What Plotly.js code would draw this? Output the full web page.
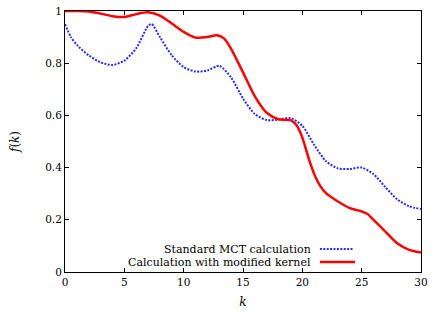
<!DOCTYPE html>
<html>
<head>
<meta charset="utf-8">
<script src="https://cdn.plot.ly/plotly-3.0.1.min.js"></script>
<style>html,body{margin:0;padding:0;background:#fff;}#chart{width:436px;height:316px;}</style>
</head>
<body>
<div id="chart"></div>
<script>
// Standard MCT calculation (blue dotted)
const kStd = [0,0.5,1,2,3,4,5,6,7,7.3,8,9,10,11,12,13,14,15,16,17,18,19,20,21,22,23,24,25,26,27,28,29,30];
const fStd = [0.95,0.9,0.87,0.83,0.803,0.793,0.81,0.857,0.943,0.95,0.9,0.83,0.785,0.768,0.772,0.79,0.745,0.665,0.605,0.582,0.584,0.59,0.56,0.487,0.424,0.397,0.395,0.4,0.375,0.325,0.278,0.252,0.241];
// Calculation with modified kernel (red solid)
const kMod = [0,1,2,3,4,5,6,7,8,9,10,11,12,12.8,13.4,14,15,16,17,18,19,19.5,20,20.5,21,21.5,22,23,24,25,25.5,26,27,28,29,30];
const fMod = [1.0,1.0,0.998,0.99,0.98,0.977,0.988,0.995,0.982,0.952,0.92,0.898,0.9,0.907,0.895,0.855,0.765,0.673,0.61,0.585,0.582,0.563,0.515,0.44,0.375,0.33,0.302,0.27,0.245,0.232,0.222,0.2,0.155,0.11,0.085,0.075];
const seriesNames = ["Standard MCT calculation", "Calculation with modified kernel"];
const xTicks = [0,5,10,15,20,25,30];
const yTicks = [0,0.2,0.4,0.6,0.8,1];
const yTickText = ["0","0.2","0.4","0.6","0.8","1"];

const FONT = "DejaVu Serif";
const blue = "#2a2aff";
const red = "#ff0000";

const traces = [
  {x: kStd, y: fStd, mode: "lines", name: seriesNames[0], line: {color: blue, width: 2, dash: "2px,1.4px", shape: "spline", smoothing: 0.7}, showlegend: false},
  {x: kMod, y: fMod, mode: "lines", name: seriesNames[1], line: {color: red, width: 2.5, shape: "spline", smoothing: 0.7}, showlegend: false}
];

const axisCommon = {
  showgrid: false, zeroline: false, showline: true, linecolor: "#000", linewidth: 1,
  mirror: "ticks", ticks: "inside", ticklen: 4, tickcolor: "#000", tickwidth: 1,
  tickfont: {family: FONT, size: 10.5, color: "#000"}
};

const layout = {
  width: 436, height: 316,
  margin: {l: 65, r: 15, t: 11, b: 44},
  paper_bgcolor: "#fff", plot_bgcolor: "#fff",
  font: {family: FONT},
  xaxis: Object.assign({}, axisCommon, {
    range: [0, 30], tickvals: xTicks, ticktext: xTicks.map(String),
    title: {text: "<i>k</i>", font: {family: FONT, size: 12, color: "#000"}, standoff: 11}
  }),
  yaxis: Object.assign({}, axisCommon, {
    range: [0, 1], tickvals: yTicks, ticktext: yTickText,
    title: {text: "<i>f</i>(<i>k</i>)", font: {family: FONT, size: 12, color: "#000"}, standoff: 22}
  }),
  annotations: [
    {xref: "paper", yref: "paper", x: 0.697, y: 0.088, xanchor: "right", yanchor: "middle", height: 12, showarrow: false, text: seriesNames[0], font: {family: FONT, size: 11, color: "#000"}},
    {xref: "paper", yref: "paper", x: 0.697, y: 0.038, xanchor: "right", yanchor: "middle", height: 12, showarrow: false, text: seriesNames[1], font: {family: FONT, size: 11, color: "#000"}}
  ],
  shapes: [
    {type: "line", xref: "paper", yref: "paper", x0: 0.716, x1: 0.81, y0: 0.088, y1: 0.088, line: {color: blue, width: 2, dash: "2px,1.4px"}},
    {type: "line", xref: "paper", yref: "paper", x0: 0.716, x1: 0.815, y0: 0.038, y1: 0.038, line: {color: red, width: 2.5}}
  ]
};

Plotly.newPlot("chart", traces, layout, {displayModeBar: false, staticPlot: true});
</script>
</body>
</html>
